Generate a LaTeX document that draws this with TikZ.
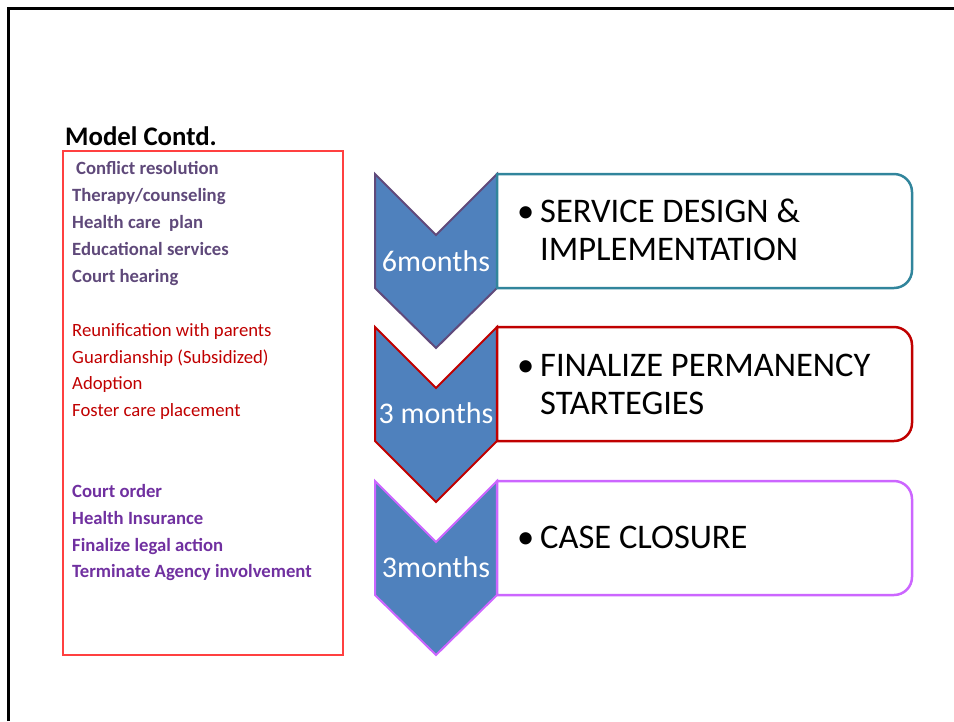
\documentclass[tikz,border=0pt]{standalone}
\usepackage{fontspec}
\setmainfont{Carlito}
\definecolor{chevfill}{HTML}{4F81BD}
\definecolor{grp1}{HTML}{5F497A}
\definecolor{grp2}{HTML}{C00000}
\definecolor{grp3}{HTML}{7030A0}
\definecolor{boxteal}{HTML}{31859C}
\definecolor{chevpurple}{HTML}{604A7B}
\definecolor{darkred}{HTML}{C00000}
\definecolor{violet}{HTML}{CC66FF}
\definecolor{listred}{HTML}{FF4040}
\tikzset{
  listA/.style={anchor=base west, inner sep=0pt, font=\fontsize{18.7}{20}\selectfont\bfseries, text=grp1},
  listB/.style={anchor=base west, inner sep=0pt, font=\fontsize{18.7}{20}\selectfont, text=grp2},
  listC/.style={anchor=base west, inner sep=0pt, font=\fontsize{18.7}{20}\selectfont\bfseries, text=grp3},
  chevtext/.style={anchor=base, inner sep=0pt, font=\fontsize{30}{32}\selectfont, text=white},
  boxtext/.style={anchor=base west, inner sep=0pt, font=\fontsize{34.5}{38}\selectfont, text=black, align=left},
  chev/.style={fill=chevfill, line width=2pt, line join=miter},
  stagebox/.style={fill=white, line width=2.5pt}
}
\newcommand{\bul}{\makebox[23pt][l]{\textbullet}}
\begin{document}
\begin{tikzpicture}[x=1pt,y=1pt]
\useasboundingbox (0,0) rectangle (954,-721);
% slide border
\draw[line width=2.5pt] (8.3,-721) -- (8.3,-8.3) -- (954,-8.3);
% title
\node[anchor=base west, inner sep=0pt, font=\fontsize{26.8}{28}\selectfont\bfseries] (title) at (65,-145) {Model Contd.};
% list box
\draw[listred, line width=1.5pt] (63,-151) rectangle (343,-655);
\node[listA] (a1) at (76,-174) {Conflict resolution};
\node[listA] (a2) at (72,-201) {Therapy/counseling};
\node[listA] (a3) at (72,-228) {Health care\ \ plan};
\node[listA] (a4) at (72,-255) {Educational services};
\node[listA] (a5) at (72,-282) {Court hearing};
\node[listB] (b1) at (72,-336) {Reunification with parents};
\node[listB] (b2) at (72,-363) {Guardianship (Subsidized)};
\node[listB] (b3) at (72,-389) {Adoption};
\node[listB] (b4) at (72,-416) {Foster care placement};
\node[listC] (c1) at (72,-497) {Court order};
\node[listC] (c2) at (72,-524) {Health Insurance};
\node[listC] (c3) at (72,-551) {Finalize legal action};
\node[listC] (c4) at (72,-577) {Terminate Agency involvement};
% chevrons
\draw[chev, draw=chevpurple] (375,-174) -- (436,-235) -- (497,-174) -- (497,-288) -- (436,-348) -- (375,-288) -- cycle;
\draw[chev, draw=darkred] (375,-327) -- (436,-388) -- (497,-327) -- (497,-441) -- (436,-502) -- (375,-441) -- cycle;
\draw[chev, draw=violet] (375,-481) -- (436,-542) -- (497,-481) -- (497,-595) -- (436,-655) -- (375,-595) -- cycle;
% boxes
\draw[stagebox, draw=boxteal] (497,-174) -- (894,-174) arc[start angle=90,end angle=0,radius=18] -- (912,-270) arc[start angle=0,end angle=-90,radius=18] -- (497,-288) -- cycle;
\draw[stagebox, draw=darkred] (497,-327) -- (894,-327) arc[start angle=90,end angle=0,radius=18] -- (912,-423) arc[start angle=0,end angle=-90,radius=18] -- (497,-441) -- cycle;
\draw[stagebox, draw=violet] (497,-481) -- (894,-481) arc[start angle=90,end angle=0,radius=18] -- (912,-577) arc[start angle=0,end angle=-90,radius=18] -- (497,-595) -- cycle;
% chevron labels
\node[chevtext] (m1) at (436,-271) {6months};
\node[chevtext] (m2) at (436,-423) {3 months};
\node[chevtext] (m3) at (436,-577) {3months};
% box texts (base anchor = last line)
\node[boxtext] (s1) at (517,-260) {\bul SERVICE DESIGN \&\\\hspace*{23pt}IMPLEMENTATION};
\node[boxtext] (s2) at (517,-414) {\bul FINALIZE PERMANENCY\\\hspace*{23pt}STARTEGIES};
\node[boxtext] (s3) at (517,-548) {\bul CASE CLOSURE};
\end{tikzpicture}
\end{document}
